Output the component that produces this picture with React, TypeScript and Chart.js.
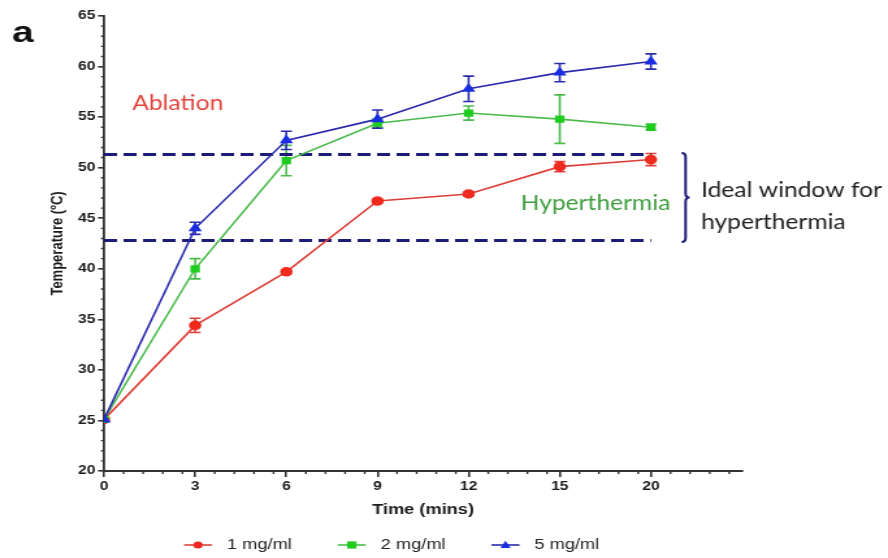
import React, { useEffect, useRef } from 'react';
import { Chart, registerables } from 'chart.js';

Chart.register(...registerables);

// horizontal stretch of the original figure
const S = 1.3;
const W = 888;
const H = 558;
const CW = Math.round(W / S);

const timeLabels = ['0', '3', '6', '9', '12', '15', '20'];
const seriesNames = ['1 mg/ml', '2 mg/ml', '5 mg/ml'];
const temp1 = [25.1, 34.4, 39.7, 46.7, 47.4, 50.1, 50.8];
const err1 = [0, 0.7, 0.2, 0.2, 0.2, 0.5, 0.6];
const temp2 = [25.1, 40.0, 50.7, 54.4, 55.4, 54.8, 54.0];
const err2 = [0, 1.0, 1.5, 0.4, 0.7, 2.4, 0.3];
const temp5 = [25.1, 44.0, 52.7, 54.8, 57.8, 59.4, 60.5];
const err5 = [0, 0.6, 0.9, 0.9, 1.25, 0.9, 0.75];
const windowUpper = 51.3;
const windowLower = 42.8;
const yMin = 20;
const yMax = 65;
const xMax = 7;

const lineColors = ['#dd3f38', '#4cba4c', '#2a2aae'];
const markColors = ['#f02a1e', '#1fcc1f', '#1a2ee0'];
const markStyles = ['circle', 'rect', 'triangle'];
const navy = '#1b1b78';

const allTemps = [temp1, temp2, temp5];
const allErrs = [err1, err2, err5];

function drawMarker(ctx: CanvasRenderingContext2D, style: string, x: number, y: number, r: number, color: string) {
  ctx.save();
  ctx.fillStyle = color;
  ctx.beginPath();
  if (style === 'circle') {
    ctx.arc(x, y, r, 0, Math.PI * 2);
  } else if (style === 'rect') {
    ctx.rect(x - r, y - r, 2 * r, 2 * r);
  } else {
    ctx.moveTo(x, y - r * 1.2);
    ctx.lineTo(x + r * 1.1, y + r * 0.8);
    ctx.lineTo(x - r * 1.1, y + r * 0.8);
    ctx.closePath();
  }
  ctx.fill();
  ctx.restore();
}

function squeezedText(ctx: CanvasRenderingContext2D, text: string, x: number, y: number, k: number) {
  ctx.save();
  ctx.translate(x, y);
  ctx.scale(k, 1);
  ctx.fillText(text, 0, 0);
  ctx.restore();
}

const errorBarPlugin = {
  id: 'errorBars',
  beforeDatasetsDraw(chart: any) {
    const ctx = chart.ctx;
    const xs = chart.scales.x;
    const ys = chart.scales.y;
    const cap = 11 / S / 2;
    ctx.save();
    allErrs.forEach((errs, si) => {
      ctx.strokeStyle = lineColors[si];
      ctx.lineWidth = 1.6;
      errs.forEach((e, i) => {
        if (!e) return;
        const x = xs.getPixelForValue(i);
        const yt = ys.getPixelForValue(allTemps[si][i] + e);
        const yb = ys.getPixelForValue(allTemps[si][i] - e);
        ctx.beginPath();
        ctx.moveTo(x, yt);
        ctx.lineTo(x, yb);
        ctx.moveTo(x - cap, yt);
        ctx.lineTo(x + cap, yt);
        ctx.moveTo(x - cap, yb);
        ctx.lineTo(x + cap, yb);
        ctx.stroke();
      });
    });
    ctx.restore();
  },
};

const decorPlugin = {
  id: 'decor',
  afterDraw(chart: any) {
    const ctx = chart.ctx as CanvasRenderingContext2D;
    const xs = chart.scales.x;
    const ys = chart.scales.y;
    const area = chart.chartArea;
    ctx.save();
    // minor ticks
    ctx.strokeStyle = '#333';
    ctx.lineWidth = 1.4;
    ctx.beginPath();
    for (let v = yMin; v <= yMax; v++) {
      if (v % 5 === 0) continue;
      const y = ys.getPixelForValue(v);
      ctx.moveTo(area.left, y);
      ctx.lineTo(area.left - 3 / S, y);
    }
    for (let i = 0; i < xMax; i++) {
      for (let k = 1; k <= 4; k++) {
        const x = xs.getPixelForValue(i + k * 0.215);
        ctx.moveTo(x, area.bottom);
        ctx.lineTo(x, area.bottom + 3);
      }
    }
    ctx.stroke();

    // panel letter
    ctx.fillStyle = '#111';
    ctx.font = 'bold 30px "Liberation Sans", Arial, sans-serif';
    ctx.textAlign = 'left';
    ctx.textBaseline = 'alphabetic';
    ctx.fillText('a', 12 / S, 42);

    // annotations
    const k = 0.86;
    ctx.font = '22px Lato, "Open Sans", sans-serif';
    ctx.textBaseline = 'middle';
    ctx.fillStyle = '#e0443c';
    squeezedText(ctx, 'Ablation', xs.getPixelForValue(0.31), ys.getPixelForValue(56.4), k);
    ctx.fillStyle = '#3e9c3e';
    squeezedText(ctx, 'Hyperthermia', xs.getPixelForValue(4.57), ys.getPixelForValue(46.5), k);
    ctx.fillStyle = '#222';
    squeezedText(ctx, 'Ideal window for', xs.getPixelForValue(6.55), ys.getPixelForValue(47.8), k);
    squeezedText(ctx, 'hyperthermia', xs.getPixelForValue(6.55), ys.getPixelForValue(44.6), k);

    // bracket
    const bx = xs.getPixelForValue(6.38);
    const top = ys.getPixelForValue(windowUpper + 0.15);
    const bot = ys.getPixelForValue(windowLower - 0.15);
    const mid = (top + bot) / 2;
    const c = 4 / S;
    ctx.strokeStyle = navy;
    ctx.lineWidth = 2;
    ctx.beginPath();
    ctx.moveTo(bx - c, top);
    ctx.quadraticCurveTo(bx, top, bx, top + 4);
    ctx.lineTo(bx, mid - 4);
    ctx.quadraticCurveTo(bx, mid, bx + c, mid);
    ctx.quadraticCurveTo(bx, mid, bx, mid + 4);
    ctx.lineTo(bx, bot - 4);
    ctx.quadraticCurveTo(bx, bot, bx - c, bot);
    ctx.stroke();

    // legend
    ctx.font = '14px "Liberation Sans", Arial, sans-serif';
    ctx.textBaseline = 'middle';
    let lx = 184 / S;
    const ly = 545;
    seriesNames.forEach((name, i) => {
      const lw = 28 / S;
      ctx.strokeStyle = lineColors[i];
      ctx.lineWidth = 1.6;
      ctx.beginPath();
      ctx.moveTo(lx, ly);
      ctx.lineTo(lx + lw, ly);
      ctx.stroke();
      drawMarker(ctx, markStyles[i], lx + lw / 2, ly, 3.6, markColors[i]);
      const tx = lx + lw + 15 / S;
      ctx.fillStyle = '#222';
      ctx.fillText(name, tx, ly);
      lx = tx + ctx.measureText(name).width + 46 / S;
    });
    ctx.restore();
  },
};

export default function App() {
  const ref = useRef<HTMLCanvasElement | null>(null);
  useEffect(() => {
    if (!ref.current) return;
    const seriesSets = allTemps.map((t, si) => ({
      label: seriesNames[si],
      data: t.map((y, i) => ({ x: i, y })),
      borderColor: lineColors[si],
      backgroundColor: markColors[si],
      pointBackgroundColor: markColors[si],
      pointBorderColor: markColors[si],
      pointStyle: markStyles[si],
      pointRadius: si === 2 ? 4.4 : 4,
      borderWidth: 1.6,
      tension: 0,
      order: 2 - si,
    }));
    const dashSets = [windowUpper, windowLower].map((v, k) => ({
      label: k === 0 ? 'upper' : 'lower',
      data: [
        { x: 0, y: v },
        { x: 6, y: v },
      ],
      borderColor: navy,
      borderWidth: 3,
      borderDash: [10, 5],
      pointRadius: 0,
      order: 5,
    }));
    const chart = new Chart(ref.current, {
      type: 'line',
      data: { datasets: [...dashSets, ...seriesSets] as any },
      options: {
        animation: false,
        responsive: false,
        devicePixelRatio: 1,
        layout: { padding: { left: 0, top: 16, right: CW - 742 / S, bottom: 0 } },
        plugins: { legend: { display: false }, tooltip: { enabled: false } },
        scales: {
          x: {
            type: 'linear',
            min: 0,
            max: xMax,
            afterBuildTicks: (scale: any) => {
              scale.ticks = timeLabels.map((_, i) => ({ value: i }));
            },
            afterFit: (scale: any) => {
              scale.height = H - 471;
            },
            ticks: {
              callback: (v: any) => timeLabels[v as number] ?? '',
              color: '#1a1a1a',
              font: { family: '"Liberation Sans", Arial, sans-serif', size: 12, weight: 'bold' },
              padding: 2,
              maxRotation: 0,
              autoSkip: false,
            },
            grid: { display: true, drawOnChartArea: false, drawTicks: true, tickLength: 6, color: '#333', lineWidth: 1.6 },
            border: { display: true, color: '#333', width: 2 },
            title: {
              display: true,
              text: 'Time (mins)',
              color: '#1a1a1a',
              font: { family: '"Liberation Sans", Arial, sans-serif', size: 14, weight: 'bold' },
              padding: { top: 0, bottom: 39.6 },
            },
          },
          y: {
            type: 'linear',
            min: yMin,
            max: yMax,
            afterFit: (scale: any) => {
              scale.width = 104 / S;
            },
            ticks: {
              stepSize: 5,
              color: '#1a1a1a',
              font: { family: '"Liberation Sans", Arial, sans-serif', size: 12, weight: 'bold' },
              padding: 2,
            },
            grid: { display: true, drawOnChartArea: false, drawTicks: true, tickLength: 6 / S, color: '#333', lineWidth: 1.6 },
            border: { display: true, color: '#333', width: 2 / S * 1.2 },
            title: {
              display: true,
              text: 'Temperature (ºC)',
              color: '#1a1a1a',
              font: { family: '"Liberation Sans", Arial, sans-serif', size: 13, weight: 'bold' },
              padding: { top: 36.6, bottom: 0 },
            },
          },
        },
      },
      plugins: [errorBarPlugin, decorPlugin],
    });
    return () => chart.destroy();
  }, []);
  return (
    <div style={{ position: 'absolute', left: 0, top: 0, width: W, height: H, background: '#fff' }}>
      <canvas ref={ref} width={CW} height={H} style={{ width: W + 'px', height: H + 'px', display: 'block' }} />
    </div>
  );
}
